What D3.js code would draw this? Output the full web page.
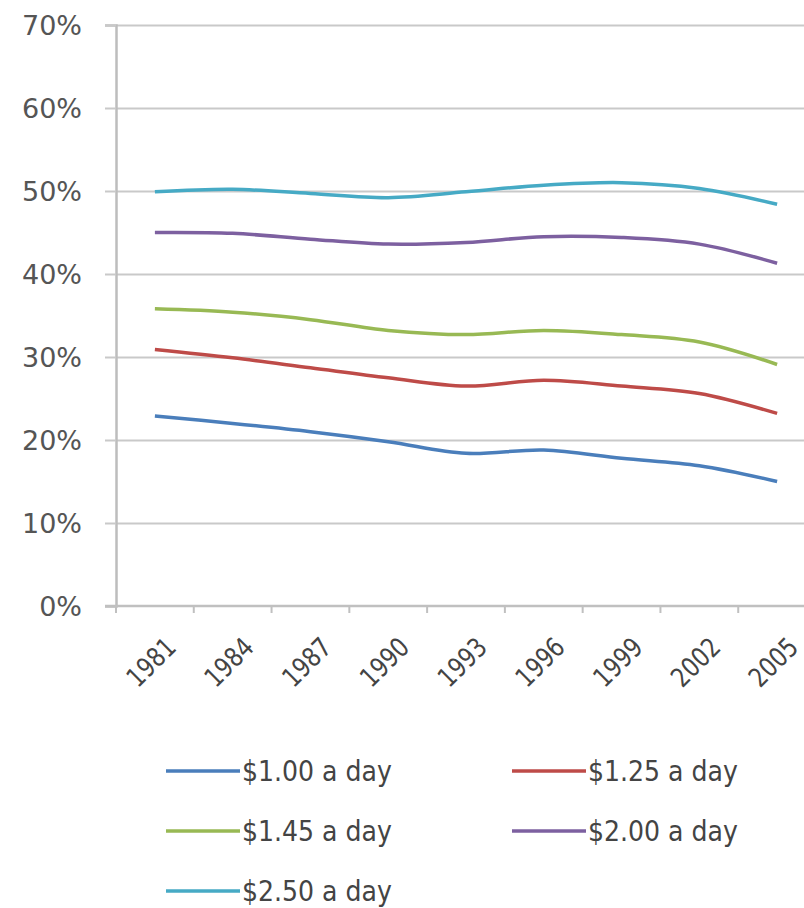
<!DOCTYPE html>
<html>
<head>
<meta charset="utf-8">
<script src="https://cdn.jsdelivr.net/npm/d3@7/dist/d3.min.js"></script>
<style>
  html, body { margin: 0; padding: 0; background: #fff; }
  svg { display: block; }
</style>
</head>
<body>
<svg id="chart" width="804" height="908"></svg>
<script>
// ---- data ----
const years = ["1981", "1984", "1987", "1990", "1993", "1996", "1999", "2002", "2005"];
const seriesNames = ["$1.00 a day", "$1.25 a day", "$1.45 a day", "$2.00 a day", "$2.50 a day"];
const s100 = [22.9, 22.0, 21.0, 19.8, 18.4, 18.8, 17.8, 16.9, 15.0];
const s125 = [30.9, 29.9, 28.7, 27.5, 26.5, 27.2, 26.5, 25.6, 23.2];
const s145 = [35.8, 35.4, 34.5, 33.2, 32.7, 33.2, 32.7, 31.8, 29.1];
const s200 = [45.0, 44.9, 44.2, 43.6, 43.8, 44.5, 44.4, 43.6, 41.3];
const s250 = [49.9, 50.2, 49.7, 49.2, 49.9, 50.7, 51.0, 50.3, 48.4];
const yTicks = [0, 10, 20, 30, 40, 50, 60, 70];
const colors = ["#4A7EBB", "#BE4B48", "#98B954", "#7D60A0", "#46AAC5"];

const seriesValues = [s100, s125, s145, s200, s250];

// ---- layout ----
const svg = d3.select("#chart");
const plotLeft = 116, plotRight = 816, plotTop = 25, plotBottom = 606;
const fontFam = "'DejaVu Sans', sans-serif";

const x = d3.scaleBand().domain(years).range([plotLeft, plotRight]).padding(0);
const y = d3.scaleLinear().domain([0, 70]).range([plotBottom, plotTop]);
const cx = d => x(d) + x.bandwidth() / 2;

// gridlines
svg.append("g")
  .attr("transform", `translate(${plotLeft},0)`)
  .call(d3.axisLeft(y).tickValues(yTicks.filter(t => t > 0)).tickSize(-(plotRight - plotLeft)).tickFormat(""))
  .call(g => g.select(".domain").remove())
  .call(g => g.selectAll("line").attr("stroke", "#c9c9c9").attr("stroke-width", 2));

// y axis with labels
svg.append("g")
  .attr("transform", `translate(${plotLeft},0)`)
  .call(d3.axisLeft(y).tickValues(yTicks).tickSize(11).tickPadding(23).tickFormat(d => d + "%"))
  .call(g => g.select(".domain").attr("stroke", "#bdbdbd").attr("stroke-width", 2.5))
  .call(g => g.selectAll("line").attr("stroke", "#c9c9c9").attr("stroke-width", 2))
  .call(g => g.selectAll("text")
    .attr("fill", "#555")
    .style("font-family", fontFam)
    .style("font-size", "27px")
    .attr("dy", "0.36em"));

// x axis line
svg.append("line")
  .attr("x1", plotLeft - 11).attr("x2", 804)
  .attr("y1", plotBottom).attr("y2", plotBottom)
  .attr("stroke", "#c0c0c0").attr("stroke-width", 2.5);

// x ticks at band boundaries
svg.append("g").selectAll("line")
  .data(years)
  .join("line")
  .attr("x1", d => x(d)).attr("x2", d => x(d))
  .attr("y1", plotBottom).attr("y2", plotBottom + 7)
  .attr("stroke", "#c0c0c0").attr("stroke-width", 2);

// x labels rotated
svg.append("g").selectAll("text")
  .data(years)
  .join("text")
  .attr("transform", d => `translate(${cx(d) - 4},662) rotate(-45) scale(0.82,1)`)
  .attr("text-anchor", "middle")
  .attr("dy", "0.36em")
  .attr("fill", "#444")
  .style("font-family", fontFam)
  .style("font-size", "27px")
  .text(d => d);

// lines
const line = d3.line()
  .x((d, i) => cx(years[i]))
  .y(d => y(d))
  .curve(d3.curveCatmullRom.alpha(0.5));

svg.append("g").selectAll("path")
  .data(seriesValues)
  .join("path")
  .attr("d", d => line(d))
  .attr("fill", "none")
  .attr("stroke", (d, i) => colors[i])
  .attr("stroke-width", 3.5)
  .attr("stroke-linecap", "butt");

// legend
const legendPos = [[166, 771], [512, 771], [166, 831], [512, 831], [166, 891]];
const lg = svg.append("g").selectAll("g")
  .data(seriesNames)
  .join("g")
  .attr("transform", (d, i) => `translate(${legendPos[i][0]},${legendPos[i][1]})`);
lg.append("line")
  .attr("x1", 0).attr("x2", 74).attr("y1", 0).attr("y2", 0)
  .attr("stroke", (d, i) => colors[i]).attr("stroke-width", 3.5);
lg.append("text")
  .attr("transform", "translate(76,0) scale(0.9,1)")
  .attr("dy", "0.36em")
  .attr("fill", "#444")
  .style("font-family", fontFam)
  .style("font-size", "28px")
  .text(d => d);
</script>
</body>
</html>
